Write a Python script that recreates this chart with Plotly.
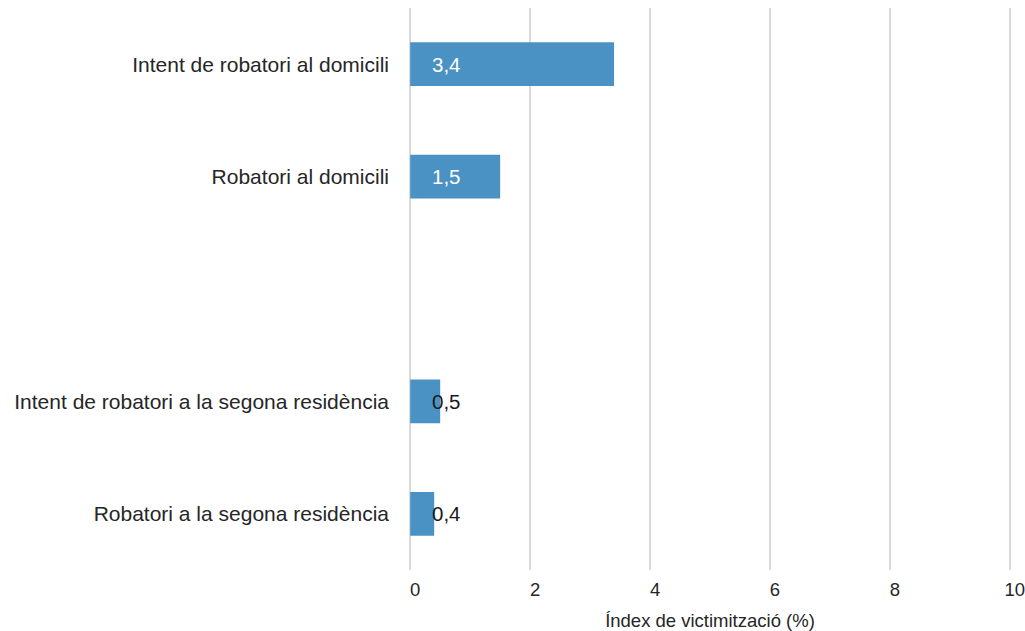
import plotly.graph_objects as go

categories = ["Intent de robatori al domicili", "Robatori al domicili", " ",
              "Intent de robatori a la segona residència", "Robatori a la segona residència"]
values = [3.4, 1.5, None, 0.5, 0.4]
labels = ["3,4", "1,5", "", "0,5", "0,4"]
x_ticks = [0, 2, 4, 6, 8, 10]

FONT = "Liberation Sans, Arial, sans-serif"
fig = go.Figure()
fig.add_trace(go.Bar(
    y=categories, x=values, orientation="h",
    marker=dict(color="#4A91C4", line=dict(width=0)),
    hoverinfo="skip",
))
for c, v, t in zip(categories, values, labels):
    if v is None:
        continue
    fig.add_annotation(x=0, y=c, xref="x", yref="y", text=t, showarrow=False,
                       xanchor="left", xshift=20,
                       font=dict(family=FONT, size=20.5,
                                 color="white" if v > 1 else "#1a1a1a"))

fig.update_layout(
    width=1025, height=631,
    margin=dict(l=409, r=14, t=8, b=61),
    paper_bgcolor="white", plot_bgcolor="white",
    bargap=0.61, showlegend=False,
    font=dict(family=FONT, color="#262626"),
)
fig.update_xaxes(range=[-0.02, 10.02], tickvals=x_ticks, ticktext=[str(v) for v in x_ticks],
                 showgrid=True, gridcolor="#D9D9D9", gridwidth=2, zeroline=False,
                 showline=False, tickfont=dict(size=18.5), ticklabelstandoff=6,
                 ticklabelshift=5, ticklabeloverflow="allow", automargin=False,
                 title=dict(text="Índex de victimització (%)", font=dict(size=18.5), standoff=15))
fig.update_yaxes(autorange="reversed", categoryorder="array", categoryarray=categories,
                 showgrid=False, zeroline=False, showline=False, automargin=False,
                 tickfont=dict(size=21), ticklabelstandoff=19)
fig.write_html("out.html", config={"displayModeBar": False},
               post_script="document.body.style.margin='0';document.body.style.overflow='hidden';")
